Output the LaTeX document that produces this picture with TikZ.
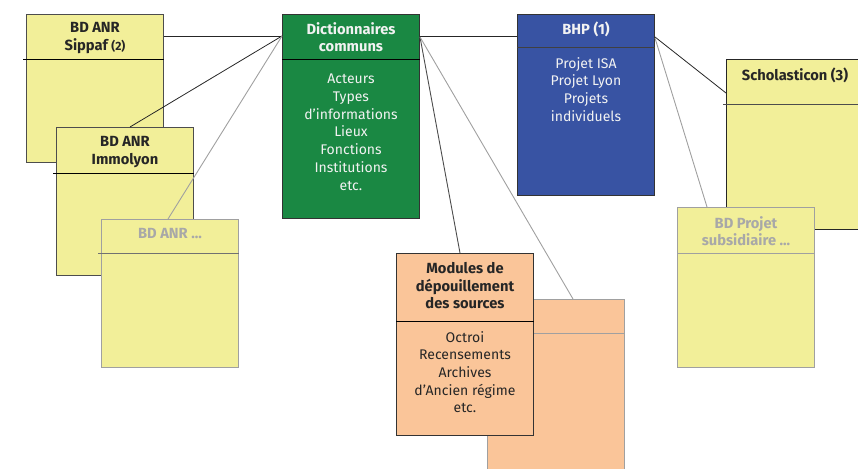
\documentclass[tikz,border=0pt]{standalone}
\usepackage{fontspec}
\setmainfont{Fira Sans}
\definecolor{yellowF}{HTML}{F2EF99}
\definecolor{greenF}{HTML}{1A8843}
\definecolor{blueF}{HTML}{3853A3}
\definecolor{orangeF}{HTML}{FAC599}
\definecolor{edgeD}{HTML}{4D4D4D}
\definecolor{edgeG}{HTML}{A0A0A0}
\definecolor{txtG}{HTML}{A8A8A8}
\definecolor{txtD}{HTML}{262626}
\definecolor{txtW}{HTML}{F2F2F2}
\begin{document}
\begin{tikzpicture}[x=1pt,y=-1pt,
  box/.style={draw=edgeD, line width=1pt, anchor=north west, minimum width=137pt, inner sep=0pt},
  ybox/.style={box, fill=yellowF},
  gbox/.style={box, fill=yellowF, draw=edgeG},
  txt/.style={anchor=north, inner sep=0pt, align=center, font=\fontsize{14}{17.7}\selectfont},
  hdr/.style={txt, font=\fontsize{14.7}{17.7}\selectfont\bfseries, text=txtD},
  divider/.style={draw=black, line width=0.8pt},
  blk/.style={draw=black!85, line width=0.8pt},
  dgry/.style={draw=black!70, line width=0.9pt},
  gry/.style={draw=edgeG, line width=0.9pt}]
\useasboundingbox (0,0) rectangle (858,468);

% left yellow boxes
\node[ybox, minimum height=148pt] (sip) at (26,14) {};
\draw[divider] ([xshift=-3pt,yshift=-45pt]sip.north west) -- ([yshift=-45pt]sip.north east);
\node[hdr] (sipT) at ([yshift=-8pt]sip.north) {BD ANR\\Sippaf {\fontsize{12}{13}\selectfont(2)}};

\node[ybox, minimum height=148pt] (imm) at (56,127) {};
\draw[divider] ([xshift=-3pt,yshift=-46pt]imm.north west) -- ([yshift=-46pt]imm.north east);
\node[hdr] (immT) at ([yshift=-9pt]imm.north) {BD ANR\\Immolyon};

\node[gbox, minimum height=148pt] (anr) at (101,219) {};
\draw[divider, draw=edgeD!80] ([xshift=-3pt,yshift=-34pt]anr.north west) -- ([yshift=-34pt]anr.north east);
\node[hdr, text=txtG] (anrT) at ([yshift=-9pt]anr.north) {BD ANR ...};

% dictionary
\node[box, fill=greenF, draw=black!80, minimum height=204pt] (dict) at (282,14) {};
\draw[divider] ([yshift=-45pt]dict.north west) -- ([yshift=-45pt]dict.north east);
\node[hdr, text=txtW] (dictT) at ([yshift=-8pt]dict.north) {Dictionnaires\\communs};
\node[txt, text=txtW] (dictB) at ([yshift=-60pt]dict.north) {Acteurs\\Types\\d'informations\\Lieux\\Fonctions\\Institutions\\etc.};

% BHP
\node[box, fill=blueF, draw=black!80, minimum height=181pt] (bhp) at (517,14) {};
\draw[divider, draw=black!75] ([yshift=-33pt]bhp.north west) -- ([yshift=-33pt]bhp.north east);
\node[hdr, text=txtW] (bhpT) at ([yshift=-8pt]bhp.north) {BHP (1)};
\node[txt, text=txtW] (bhpB) at ([yshift=-43pt]bhp.north) {Projet ISA\\Projet Lyon\\Projets\\individuels};

% right yellow boxes
\node[ybox, draw=black!85, minimum height=170pt] (sch) at (726,59) {};
\draw[divider, draw=edgeD] ([xshift=-3pt,yshift=-45pt]sch.north west) -- ([yshift=-45pt]sch.north east);
\node[hdr] (schT) at ([yshift=-9pt]sch.north) {Scholasticon (3)};

\node[gbox, minimum height=160pt] (sub) at (677,207) {};
\draw[divider, draw=edgeG] ([yshift=-46pt]sub.north west) -- ([yshift=-46pt]sub.north east);
\node[hdr, text=txtG] (subT) at ([yshift=-9pt]sub.north) {BD Projet\\subsidiaire ...};

% orange boxes
\node[box, fill=orangeF, draw=edgeG, minimum height=200pt] (ob) at (487,299) {};
\draw[divider, draw=edgeG] ([yshift=-34pt]ob.north west) -- ([yshift=-34pt]ob.north east);

\node[box, fill=orangeF, draw=black!80, minimum height=182pt] (mod) at (396,253) {};
\draw[divider] ([yshift=-68pt]mod.north west) -- ([yshift=-68pt]mod.north east);
\node[hdr] (modT) at ([yshift=-9pt]mod.north) {Modules de\\dépouillement\\des sources};
\node[txt, text=txtD] (modB) at ([yshift=-78pt]mod.north) {Octroi\\Recensements\\Archives\\d'Ancien régime\\etc.};

% connectors
\draw[blk] ([yshift=-22pt]sip.north east) -- ([yshift=-22pt]dict.north west);
\draw[blk] ([yshift=-22pt]dict.north west) -- ([xshift=74pt]imm.north west);
\draw[gry] ([yshift=-22pt]dict.north west) -- ([xshift=67pt]anr.north west);
\draw[blk] ([yshift=-22pt]dict.north east) -- ([yshift=-22pt]bhp.north west);
\draw[dgry] ([yshift=-23pt]dict.north east) -- ([xshift=64pt]mod.north west);
\draw[gry] ([yshift=-23pt]dict.north east) -- ([xshift=86pt]ob.north west);
\draw[blk] ([yshift=-23pt]bhp.north east) -- ([yshift=-34pt]sch.north west);
\draw[gry] ([yshift=-24pt]bhp.north east) -- ([xshift=30pt]sub.north west);
\end{tikzpicture}
\end{document}
